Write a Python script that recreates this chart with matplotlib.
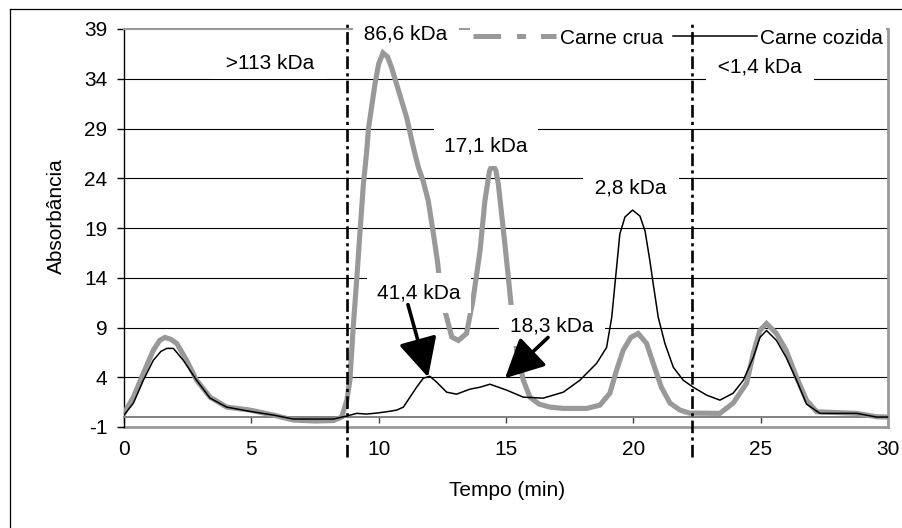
import matplotlib
matplotlib.use("Agg")
import matplotlib.pyplot as plt
from matplotlib.lines import Line2D

plt.rcParams['font.family'] = ['Liberation Sans', 'DejaVu Sans']
plt.rcParams['axes.unicode_minus'] = False

# --- data ---
t_crua = [0.0, 0.37, 0.76, 1.15, 1.4, 1.61, 1.85, 2.07, 2.46, 2.85, 3.38, 4.03, 4.95, 5.86,
          6.65, 7.5, 8.22, 8.55, 8.75, 8.87, 9.0, 9.14, 9.27, 9.4, 9.53, 9.6, 9.85, 10.0,
          10.17, 10.35, 10.51, 10.9, 11.1, 11.3, 11.43, 11.56, 11.75, 11.95, 12.15, 12.3,
          12.45, 12.6, 12.87, 13.13, 13.45, 13.7, 13.98, 14.17, 14.35, 14.47, 14.6, 14.7,
          14.9, 15.09, 15.22, 15.42, 15.68, 15.94, 16.3, 16.73, 17.25, 18.17, 18.69, 19.08,
          19.34, 19.6, 19.9, 20.19, 20.52, 20.78, 21.1, 21.44, 21.83, 22.2, 23.4, 23.92,
          24.45, 24.71, 24.97, 25.23, 25.62, 26.0, 26.41, 26.8, 27.2, 28.77, 29.55, 30.0]
v_crua = [0.4, 2.0, 4.4, 6.7, 7.7, 8.0, 7.8, 7.4, 5.7, 3.7, 2.0, 1.0, 0.7, 0.2,
          -0.3, -0.4, -0.35, 0.0, 1.7, 3.7, 9.0, 13.9, 18.7, 23.4, 26.7, 29.0, 33.4, 35.5,
          36.6, 36.2, 35.1, 31.8, 30.1, 27.8, 26.4, 25.1, 23.7, 21.7, 18.4, 15.8,
          12.5, 10.7, 8.05, 7.7, 8.4, 11.7, 16.7, 21.7, 24.7, 25.4, 24.8, 23.4,
          18.7, 14.1, 10.7, 6.7, 3.7, 2.0, 1.3, 1.0, 0.87, 0.87, 1.2, 2.4,
          4.7, 6.7, 8.0, 8.4, 7.4, 5.4, 3.0, 1.4, 0.7, 0.4, 0.37, 1.4,
          3.4, 6.4, 8.7, 9.4, 8.4, 6.7, 4.0, 1.7, 0.53, 0.37, 0.03, 0.0]

t_cozida = [0.0, 0.37, 0.76, 1.15, 1.45, 1.68, 1.94, 2.33, 2.85, 3.38, 4.03, 4.95, 5.86,
            6.65, 8.22, 8.74, 9.14, 9.53, 9.92, 10.31, 10.71, 10.97, 11.23, 11.49, 11.75,
            12.01, 12.28, 12.67, 13.06, 13.58, 13.98, 14.37, 15.03, 15.68, 16.46, 17.25,
            17.9, 18.56, 18.95, 19.15, 19.28, 19.47, 19.67, 19.97, 20.26, 20.46, 20.65,
            20.78, 20.98, 21.24, 21.57, 21.96, 22.35, 22.88, 23.4, 23.92, 24.32, 24.71,
            24.97, 25.23, 25.62, 26.0, 26.41, 26.8, 27.33, 28.77, 29.55, 30.0]
v_cozida = [0.2, 1.4, 3.7, 5.7, 6.6, 6.9, 6.9, 5.7, 3.7, 1.9, 1.0, 0.57, 0.2,
            -0.2, -0.2, 0.1, 0.37, 0.3, 0.4, 0.53, 0.7, 1.0, 2.0, 3.0, 3.9,
            4.1, 3.5, 2.5, 2.3, 2.8, 3.0, 3.3, 2.7, 2.0, 1.9, 2.5,
            3.7, 5.4, 7.0, 10.0, 13.4, 18.4, 20.1, 20.8, 20.2, 18.7, 15.7,
            13.4, 10.0, 7.4, 5.0, 3.7, 3.0, 2.2, 1.7, 2.4, 3.7, 6.0,
            8.0, 8.7, 7.7, 6.0, 3.7, 1.3, 0.37, 0.37, 0.0, 0.0]

series_names = ["Carne crua", "Carne cozida"]
cut_positions = [8.75, 22.3]
x_ticks = [0, 5, 10, 15, 20, 25, 30]
y_ticks = [-1, 4, 9, 14, 19, 24, 29, 34, 39]

labels = [">113 kDa", "86,6 kDa", "17,1 kDa", "2,8 kDa", "<1,4 kDa"]
label_x = [5.73, 11.07, 14.21, 19.9, 24.97]
label_y = [35.5, 38.5, 27.2, 23.0, 35.2]

arrow_labels = ["41,4 kDa", "18,3 kDa"]
arrow_text_xy = [(11.58, 12.5), (16.8, 9.2)]
arrow_tail_xy = [(11.15, 11.3), (16.65, 8.0)]
arrow_tip_xy = [(11.94, 4.0), (14.96, 3.9)]

FS = 15
GRAY = '#999999'
label_pads = [0.28, 0.28, 0.5, 0.3, 0.3]
arrow_label_pads = [0.5, 0.55]

fig = plt.figure(figsize=(9.03, 5.28), dpi=100)
ax = fig.add_axes([124 / 903, 1 - 427 / 528, 764 / 903, 398 / 528])

ax.set_xlim(0, 30)
ax.set_ylim(-1, 39)

# gridlines
for y in y_ticks[1:-1]:
    ax.axhline(y, color='black', lw=0.8, zorder=1)
ax.axhline(-1, color=GRAY, lw=2.0, zorder=1, clip_on=False)

ax.plot(t_crua, v_crua, color=GRAY, lw=3.7, zorder=3, solid_joinstyle='miter')
ax.plot(t_cozida, v_cozida, color='black', lw=1.1, zorder=4)

# spines
ax.spines['top'].set_color(GRAY)
ax.spines['top'].set_linewidth(1.5)
ax.spines['right'].set_color(GRAY)
ax.spines['right'].set_linewidth(2.0)
ax.spines['left'].set_color('black')
ax.spines['left'].set_linewidth(1.0)
ax.spines['bottom'].set_position(('data', 0))
ax.spines['bottom'].set_color('#808080')
ax.spines['bottom'].set_linewidth(1.4)

ax.set_xticks(x_ticks)
ax.set_yticks(y_ticks)
ax.tick_params(axis='x', direction='out', length=4.5, width=1.0, color='#404040',
               pad=12, labelsize=FS)
ax.tick_params(axis='y', direction='out', length=5, width=1.0, color='black',
               pad=7, labelsize=FS)

ax.set_xlabel("Tempo (min)", fontsize=FS)
ax.set_ylabel("Absorbância", fontsize=FS)
ax.xaxis.set_label_coords(0.501, -0.135)
ax.yaxis.set_label_coords(-0.076, 0.53)

# vertical cut lines
for xc in cut_positions:
    ax.plot([xc, xc], [-4, 39.5], color='black', lw=1.9,
            linestyle=(0, (4.8, 1.6, 1.2, 1.6)), clip_on=False, zorder=7)

for s, x, y, p in zip(labels, label_x, label_y, label_pads):
    txt = s if p >= 0.45 else " " + s + " "
    ax.text(x, y, txt, fontsize=FS, ha='center', va='center', zorder=6,
            bbox=dict(boxstyle='square,pad=%.2f' % p, facecolor='white', edgecolor='none'))

for s, txy, tail, tip, p in zip(arrow_labels, arrow_text_xy, arrow_tail_xy, arrow_tip_xy,
                                arrow_label_pads):
    ax.text(txy[0], txy[1], s, fontsize=FS, ha='center', va='center', zorder=6,
            bbox=dict(boxstyle='square,pad=%.2f' % p, facecolor='white', edgecolor='none'))
    ax.annotate("", xy=tip, xytext=tail,
                arrowprops=dict(arrowstyle='-|>,head_length=1.0,head_width=0.5',
                                lw=2.6, color='black', mutation_scale=24,
                                shrinkA=0, shrinkB=0),
                zorder=8)

handles = [Line2D([], [], color=GRAY, lw=3.6, dashes=[5.5, 3.2, 1.8, 3.0]),
           Line2D([], [], color='black', lw=1.1)]
leg = ax.legend(handles, series_names, loc='center right', bbox_to_anchor=(0.997, 0.977),
                ncol=2, fontsize=FS, frameon=True, fancybox=False, handlelength=4.0,
                handletextpad=0.15, columnspacing=0.5, borderpad=0.15, borderaxespad=0)
leg.get_frame().set_facecolor('white')
leg.get_frame().set_edgecolor('none')
leg.get_frame().set_alpha(1)
leg.set_zorder(5)

# outer frame
fig.add_artist(Line2D([10.5 / 903, 10.5 / 903], [0, 1 - 9 / 528], color='black', lw=0.9,
                      transform=fig.transFigure))
fig.add_artist(Line2D([10.5 / 903, 1], [1 - 9 / 528, 1 - 9 / 528], color='black', lw=0.9,
                      transform=fig.transFigure))

fig.savefig("out.png", dpi=100)
